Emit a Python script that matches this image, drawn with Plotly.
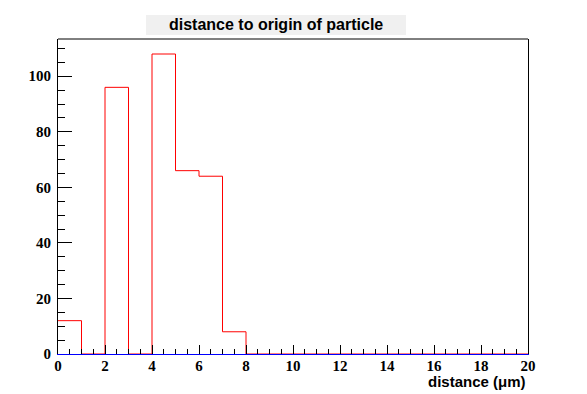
import plotly.graph_objects as go

bin_edges = list(range(0, 21))
counts = [12, 0, 96, 0, 108, 66, 64, 8, 0, 0, 0, 0, 0, 0, 0, 0, 0, 0, 0, 0]
title_text = "distance to origin of particle"
x_title = "distance (\u03bcm)"

# page has an 8px body margin; build the figure to fit inside the window
OFF = 8
W, H = 587 - OFF, 394 - OFF
PL, PR, PT, PB = 58, 528, 39, 354  # plot area in page pixels
L, R, T, B = PL - OFF, W - (PR - OFF), PT - OFF, H - (PB - OFF)
pw, ph = W - L - R, H - T - B


def px(xp):
    return (xp - PL) / pw


def py(yp):
    return (PB - yp) / ph


step_x = bin_edges
step_y = counts + [counts[-1]]

fig = go.Figure()
fig.add_trace(go.Scatter(x=step_x, y=step_y, mode="lines",
                         line=dict(color="red", width=1, shape="hv"),
                         showlegend=False, hoverinfo="skip"))

tickfont = dict(family="Liberation Serif", size=15, color="black", weight="bold")
fig.update_layout(
    width=W, height=H,
    margin=dict(l=L, r=R, t=T, b=B, pad=0, autoexpand=False),
    paper_bgcolor="white", plot_bgcolor="white",
    xaxis=dict(range=[0, 20], dtick=2, tick0=0, ticks="inside", ticklen=9,
               tickcolor="black", tickwidth=1, showgrid=False, zeroline=False,
               showline=True, linecolor="blue", linewidth=1, mirror=False,
               tickfont=tickfont, ticklabelstandoff=-2, automargin=False,
               minor=dict(dtick=0.5, ticks="inside", ticklen=5, tickcolor="black", showgrid=False)),
    yaxis=dict(range=[0, 113.4], dtick=20, tick0=0, ticks="inside", ticklen=14,
               tickcolor="black", tickwidth=1, showgrid=False, zeroline=False,
               showline=True, linecolor="black", linewidth=1, mirror=True,
               tickfont=tickfont, ticklabelstandoff=3, automargin=False,
               minor=dict(dtick=5, ticks="inside", ticklen=7, tickcolor="black", showgrid=False)),
    shapes=[
        dict(type="line", xref="paper", yref="paper", x0=0, x1=1, y0=1, y1=1,
             line=dict(color="black", width=1), layer="above"),
        dict(type="rect", xref="paper", yref="paper",
             x0=px(146), x1=px(406), y0=py(35), y1=py(15),
             fillcolor="#f0f0f0", line=dict(width=0), layer="below"),
    ],
    annotations=[
        dict(text=title_text, xref="paper", yref="paper",
             x=px(276), y=py(25), xanchor="center", yanchor="middle",
             showarrow=False, font=dict(family="Liberation Sans", size=16, color="black", weight="bold")),
        dict(text=x_title, xref="paper", yref="paper", x=1, y=py(381),
             xanchor="right", yanchor="middle",
             showarrow=False, font=dict(family="Liberation Sans", size=15, color="black", weight="bold")),
    ],
)

fig.write_html("out.html")
